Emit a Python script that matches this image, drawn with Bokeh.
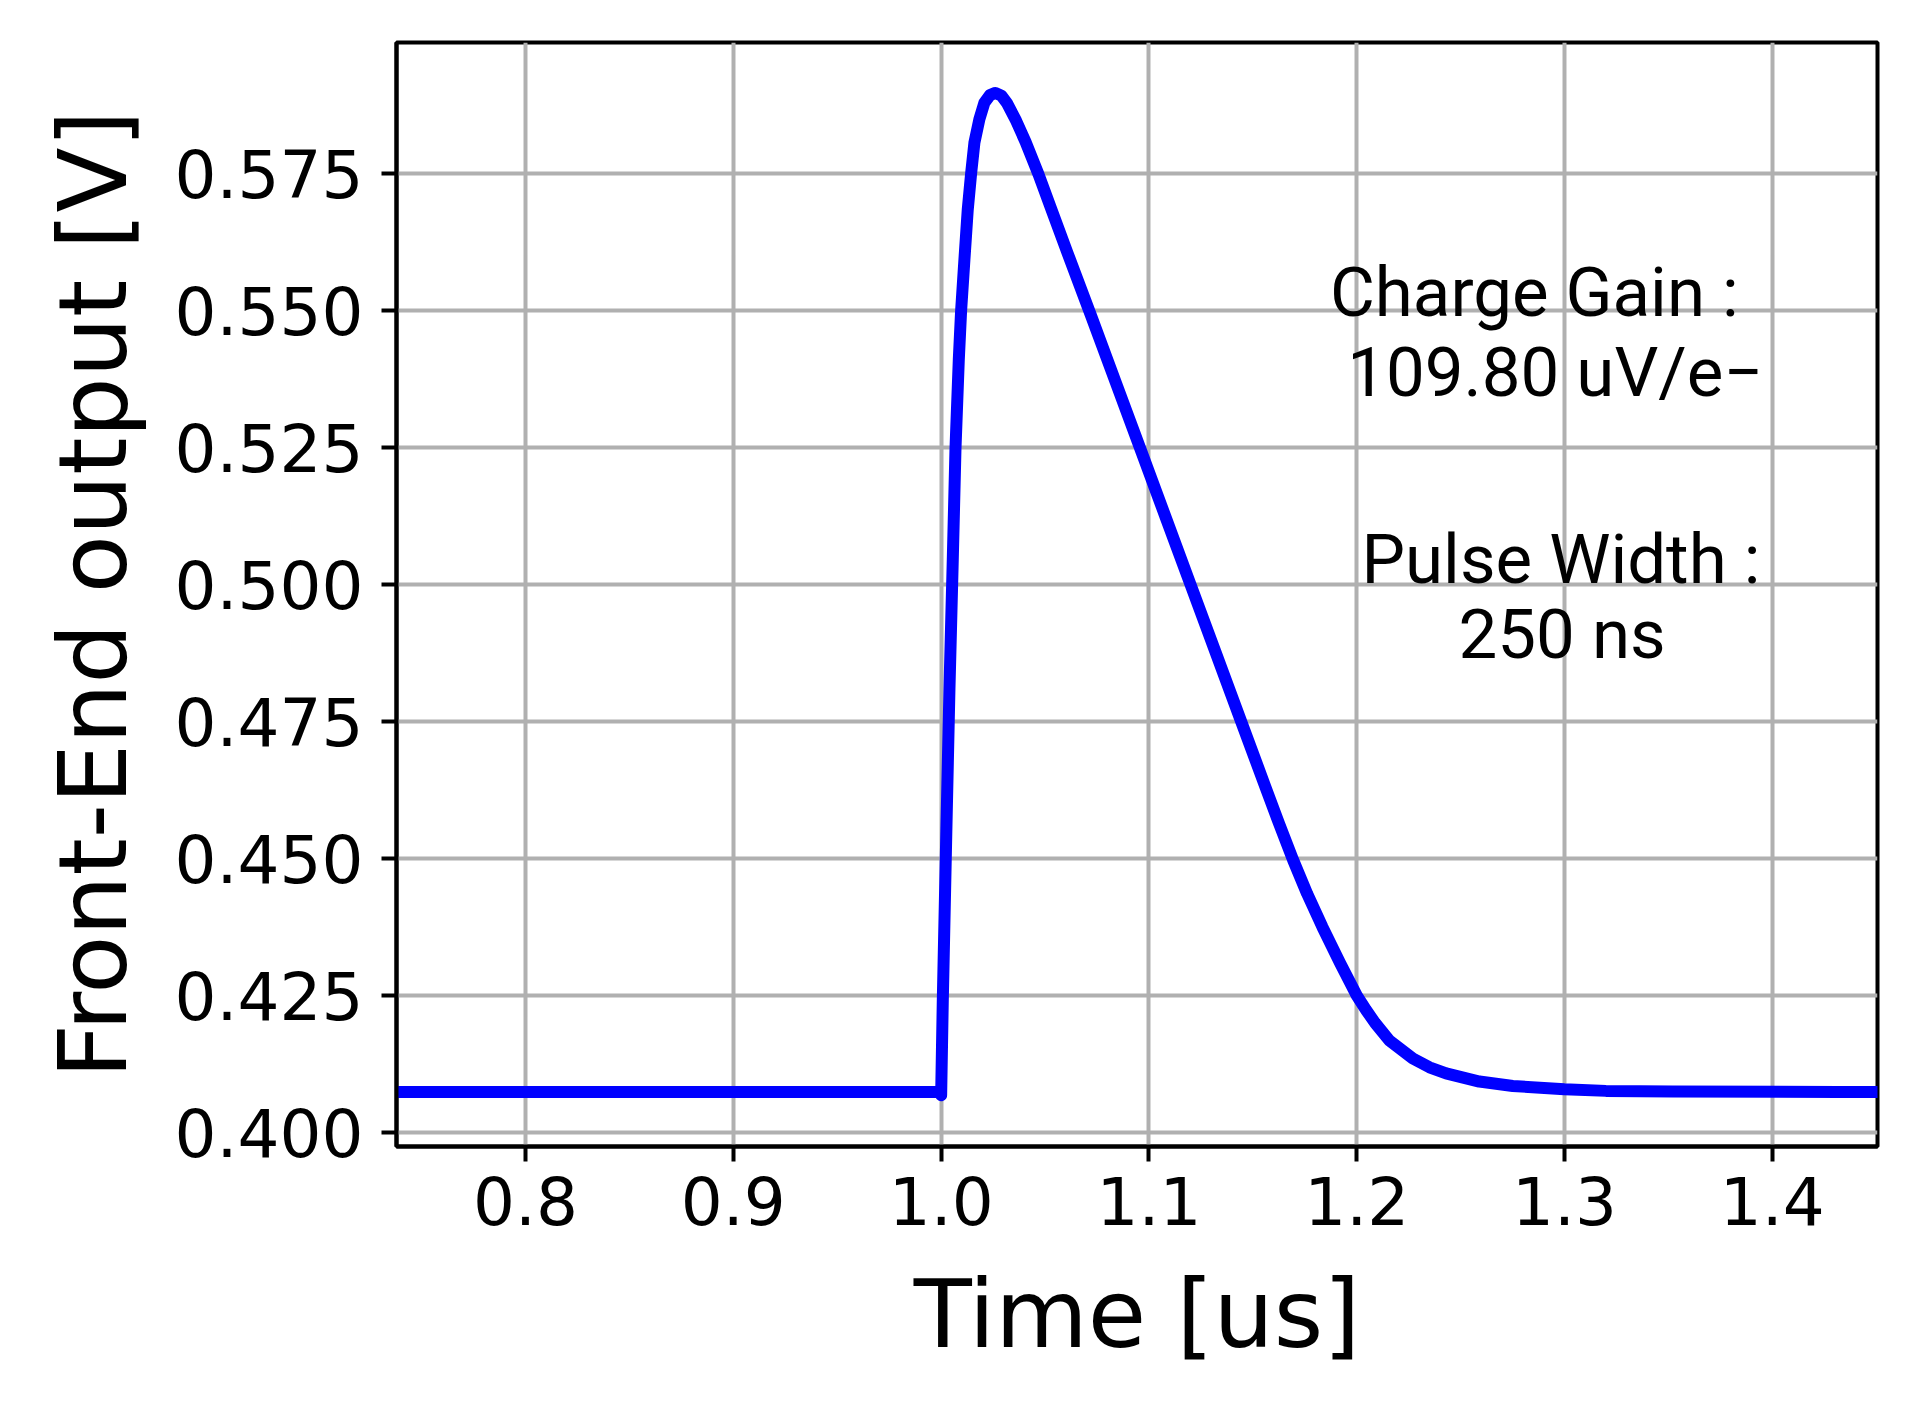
from bokeh.plotting import figure
from bokeh.models import Range1d, FixedTicker, PrintfTickFormatter, Label
from bokeh.embed import file_html
from bokeh.resources import INLINE

# ---- data ----
time_us = [0.70, 0.90, 0.9995, 1.0000, 1.0008, 1.0025, 1.0040, 1.0056, 1.0069,
           1.0085, 1.0096, 1.0112, 1.0128, 1.0144, 1.0160, 1.0184, 1.0208, 1.0235,
           1.0261, 1.0290, 1.0316, 1.0361, 1.0406, 1.0468, 1.0529, 1.0609, 1.0720,
           1.0840, 1.0965, 1.1085, 1.1200, 1.1320, 1.1440, 1.1560, 1.1627, 1.1694,
           1.1761, 1.1835, 1.1920, 1.2000, 1.2044, 1.2088, 1.2157, 1.2270, 1.2350,
           1.2430, 1.2590, 1.2751, 1.2999, 1.3199, 1.3520, 1.4320, 1.5000]
output_v = [0.4074, 0.4074, 0.4074, 0.4068, 0.4243, 0.4550, 0.4810, 0.5046, 0.5248,
            0.5411, 0.5499, 0.5593, 0.5684, 0.5749, 0.5806, 0.5849, 0.5879, 0.5893,
            0.5897, 0.5892, 0.5879, 0.5846, 0.5808, 0.5749, 0.5686, 0.5604, 0.5492,
            0.5369, 0.5241, 0.5118, 0.5000, 0.4877, 0.4754, 0.4631, 0.4563, 0.4497,
            0.4436, 0.4375, 0.4309, 0.4250, 0.4224, 0.4200, 0.4168, 0.4135, 0.4119,
            0.4108, 0.4093, 0.4085, 0.4079, 0.4076, 0.4075, 0.4074, 0.4074]

x_ticks = [0.8, 0.9, 1.0, 1.1, 1.2, 1.3, 1.4]
y_ticks = [0.400, 0.425, 0.450, 0.475, 0.500, 0.525, 0.550, 0.575]

annot_gain = ["Charge  Gain :", "109.80 uV/e\u2212"]
annot_width = ["Pulse Width :", "250 ns"]

p = figure(width=1898, height=1394, output_backend="svg", toolbar_location=None,
           x_range=Range1d(0.7379, 1.4506), y_range=Range1d(0.39745, 0.5989),
           frame_width=1481, frame_height=1104,
           min_border_left=396, min_border_top=42, min_border_right=21,
           min_border_bottom=248)
p.background_fill_color = "white"
p.border_fill_color = "white"
p.outline_line_color = "black"
p.outline_line_width = 4

p.line(time_us, output_v, line_color="#0000ff", line_width=12,
       line_join="round", line_cap="round")

p.xaxis.ticker = FixedTicker(ticks=x_ticks)
p.yaxis.ticker = FixedTicker(ticks=y_ticks)
p.xaxis.formatter = PrintfTickFormatter(format="%.1f")
p.yaxis.formatter = PrintfTickFormatter(format="%.3f")

for ax in (p.xaxis[0], p.yaxis[0]):
    ax.axis_line_color = "black"
    ax.axis_line_width = 4
    ax.major_tick_line_color = "black"
    ax.major_tick_line_width = 4
    ax.major_tick_out = 15
    ax.major_tick_in = 0
    ax.minor_tick_line_color = None
    ax.major_label_text_font = "DejaVu Sans"
    ax.major_label_text_font_size = "66px"
    ax.major_label_text_color = "black"
    ax.axis_label_text_font = "DejaVu Sans"
    ax.axis_label_text_font_size = "95px"
    ax.axis_label_text_font_style = "normal"
    ax.axis_label_text_color = "black"

p.xaxis.axis_label = "Time [us]"
p.yaxis.axis_label = "Front-End output [V]"
p.xaxis.major_label_standoff = 14
p.yaxis.major_label_standoff = 18
p.xaxis.axis_label_standoff = 31
p.yaxis.axis_label_standoff = 24

p.grid.grid_line_color = "#b0b0b0"
p.grid.grid_line_width = 4

font = "Roboto"
label_pos = [(1.2896, 0.5533), (1.2954, 0.53875), (1.2983, 0.50463), (1.2988, 0.49079)]
for (lx, ly), txt in zip(label_pos, annot_gain + annot_width):
    p.add_layout(Label(x=lx, y=ly, text=txt, text_align="center",
                       text_baseline="alphabetic", text_font=font,
                       text_font_size="69px", text_color="black"))

open("out.html", "w").write(file_html(p, INLINE))
